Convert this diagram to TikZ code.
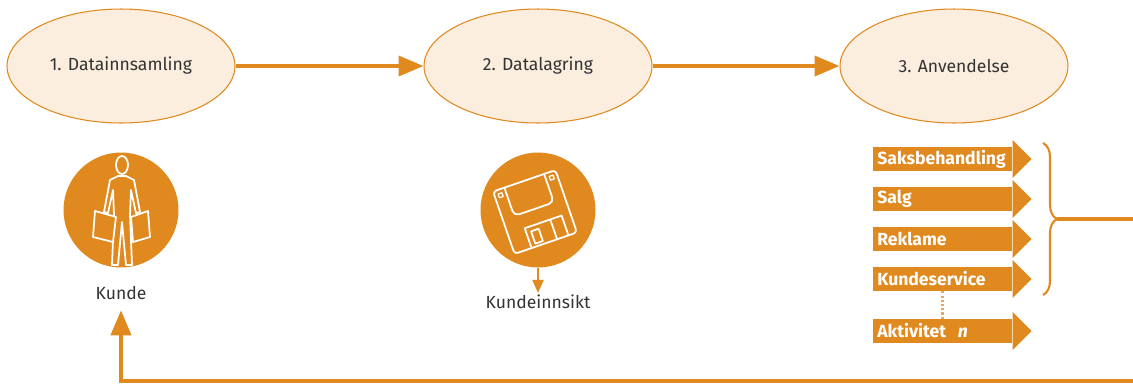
\documentclass[tikz,border=0pt]{standalone}
\usepackage{fontspec}
\setmainfont{Fira Sans}
\usepackage{tikz}
\usetikzlibrary{shapes, arrows.meta, positioning, calc, decorations.pathreplacing}
\definecolor{accent}{RGB}{224, 137, 30}
\definecolor{cream}{RGB}{251, 238, 222}
\definecolor{inkgray}{RGB}{51, 51, 51}

\begin{document}
\begin{tikzpicture}[x=0.02cm, y=-0.02cm,
  stage/.style={ellipse, draw=accent, line width=0.6pt, fill=cream, minimum width=4.56cm, minimum height=2.28cm, font=\fontsize{10}{12}\selectfont, text=inkgray},
  icon/.style={circle, fill=accent, minimum size=2.3cm, inner sep=0pt},
  caption/.style={font=\fontsize{10}{12}\selectfont, text=inkgray, inner sep=1pt},
  flow/.style={accent, line width=2.2pt, -{Triangle[length=0.5cm, width=0.4cm]}},
  actbox/.style={anchor=west, fill=accent, text=white, font=\bfseries\fontsize{10}{12}\selectfont, minimum width=2.78cm, minimum height=0.48cm, text width=2.62cm, align=left, inner xsep=0.08cm, inner ysep=0pt},
  glyph/.style={white, line width=1pt, line join=round, line cap=round}]
  \useasboundingbox (0,0) rectangle (1133,383);
  \clip (0,0) rectangle (1133,383);

  % Stages
  \node[stage] (samle) at (121,66) {1. Datainnsamling};
  \node[stage] (lagre) at (538,66) {2. Datalagring};
  \node[stage] (bruk) at (954,66) {3. Anvendelse};
  \draw[flow] (samle) -- (lagre);
  \draw[flow] (lagre) -- (bruk);

  % Kunde
  \node[icon] (kunde) at (121,210) {};
  \node[caption] (kundetxt) at (121,293) {Kunde};
  \draw[glyph] (122,165) ellipse [x radius=0.12cm, y radius=0.18cm];
  \draw[glyph] (118,176) -- (110,180) -- (104,212) -- (108,213) -- (113,190) -- (114,215) -- (112,265) -- (118,265) -- (122,222) -- (126,265) -- (132,265) -- (130,215) -- (131,190) -- (136,213) -- (140,212) -- (134,180) -- (126,176) -- cycle;
  \filldraw[glyph, fill=accent] (95,211) -- (116,217) -- (113,242) -- (93,237) -- cycle;
  \filldraw[glyph, fill=accent] (131,217) -- (148,211) -- (150,237) -- (133,242) -- cycle;

  % Lagring
  \node[icon] (disk) at (538,210) {};
  \node[caption] (innsikt) at (538,302) {Kundeinnsikt};
  \draw[accent, line width=1.2pt, -{Triangle[length=0.26cm, width=0.22cm]}] (disk) -- (innsikt);
  \begin{scope}[shift={(535,212)}, rotate=19]
    \draw[glyph, rounded corners=2pt] (-33,-33) rectangle (33,33);
    \draw[glyph, line width=0.7pt] (-29,-29) rectangle (-25,-25);
    \draw[glyph, line width=0.7pt] (25,-29) rectangle (29,-25);
    \draw[glyph, rounded corners=3pt] (-21,-33) -- (-21,-3) -- (21,-3) -- (21,-33);
    \draw[glyph] (-15,33) -- (-15,12) -- (24,12) -- (24,33);
    \draw[glyph] (-10,30) rectangle (-2,17);
    \draw[glyph] (12,12) -- (12,33);
  \end{scope}

  % Anvendelse
  \foreach \nm/\yy/\txt in {saks/159/Saksbehandling, salg/199/Salg, rekl/239/Reklame, serv/279/Kundeservice, akt/331/{Aktivitet\ \ \textit{n}}} {
    \node[actbox] (\nm) at (873,\yy) {\txt};
    \fill[accent] ([yshift=0.13cm]\nm.north east) -- ([xshift=0.38cm]\nm.east) -- ([yshift=-0.13cm]\nm.south east) -- cycle;
  }
  \draw[accent!75, line width=1.6pt, dash pattern=on 1.2pt off 1.2pt] (serv) -- (akt);
  \draw[accent, line width=1.2pt, decorate, decoration={brace, amplitude=0.28cm}] (1043,143) -- (1043,295);

  % Return
  \coordinate (tip) at (1057,219);
  \coordinate (ret) at (1160,381);
  \draw[flow, shorten >=0.17cm] (tip) -| (ret) -| (kundetxt);
\end{tikzpicture}
\end{document}
